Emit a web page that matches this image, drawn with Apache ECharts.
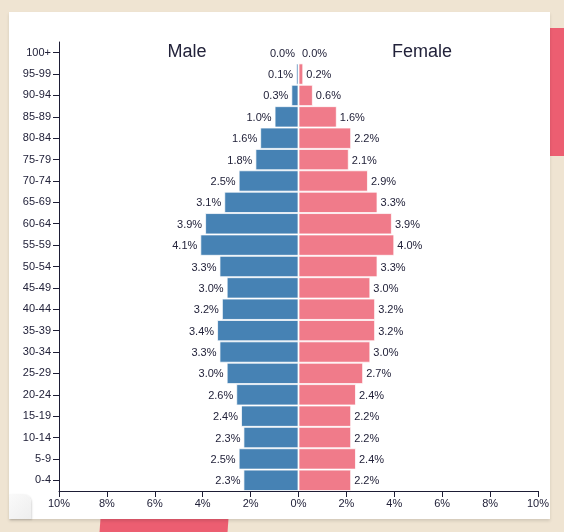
<!DOCTYPE html>
<html>
<head>
<meta charset="utf-8">
<script src="https://cdn.jsdelivr.net/npm/echarts@6/dist/echarts.min.js"></script>
<style>
  html, body { margin: 0; padding: 0; width: 564px; height: 532px; overflow: hidden; background: #efe4d2; }
  #patchR { position: absolute; left: 549px; top: 28px; width: 15px; height: 128px; background: #ec5e71; }
  #patchB { position: absolute; left: 100px; top: 519px; width: 128px; height: 13px; background: #ec5e71; transform: skewX(-4deg); }
  #card { position: absolute; left: 9px; top: 12px; width: 541px; height: 507px; background: #fff; box-shadow: 0 2px 3px rgba(0,0,0,0.12); }
  #curl { position: absolute; left: 9px; top: 494px; width: 22px; height: 25px; background: linear-gradient(135deg, #fafafa 0%, #eeeeee 100%); border-top-right-radius: 8px; box-shadow: 1px 1px 2px rgba(0,0,0,0.15); }
  #chart { position: absolute; left: 0; top: 0; width: 564px; height: 532px; }
</style>
</head>
<body>
<div id="patchR"></div>
<div id="patchB"></div>
<div id="card"></div>
<div id="curl"></div>
<div id="chart"></div>
<script>
// Age groups, top to bottom
const ageGroups = ['100+','95-99','90-94','85-89','80-84','75-79','70-74','65-69','60-64','55-59','50-54','45-49','40-44','35-39','30-34','25-29','20-24','15-19','10-14','5-9','0-4'];
// Percent of population
const maleValues   = [0.0, 0.1, 0.3, 1.0, 1.6, 1.8, 2.5, 3.1, 3.9, 4.1, 3.3, 3.0, 3.2, 3.4, 3.3, 3.0, 2.6, 2.4, 2.3, 2.5, 2.3];
const femaleValues = [0.0, 0.2, 0.6, 1.6, 2.2, 2.1, 2.9, 3.3, 3.9, 4.0, 3.3, 3.0, 3.2, 3.2, 3.0, 2.7, 2.4, 2.2, 2.2, 2.4, 2.2];
const xTicks = [-10, -8, -6, -4, -2, 0, 2, 4, 6, 8, 10];
const seriesNames = ['Male', 'Female'];

const axisColor = '#1d1d35';
const textColor = '#22223a';
const font = 'Liberation Sans, Arial, Helvetica, sans-serif';

const chart = echarts.init(document.getElementById('chart'), null, { renderer: 'canvas' });
const fmt = v => Math.abs(v).toFixed(1) + '%';

chart.setOption({
  animation: false,
  textStyle: { fontFamily: font },
  title: [
    { text: seriesNames[0], left: 182, top: 38, textAlign: 'center',
      textStyle: { fontSize: 18, fontWeight: 'normal', color: textColor, fontFamily: font } },
    { text: seriesNames[1], left: 417, top: 38, textAlign: 'center',
      textStyle: { fontSize: 18, fontWeight: 'normal', color: textColor, fontFamily: font } }
  ],
  grid: { left: 59, right: 26, top: 42, bottom: 41, containLabel: false },
  xAxis: {
    type: 'value',
    min: xTicks[0], max: xTicks[xTicks.length - 1], interval: 2,
    axisLine: { show: true, lineStyle: { color: axisColor, width: 1 } },
    axisTick: { show: true, length: 6, lineStyle: { color: axisColor } },
    splitLine: { show: false },
    axisLabel: { formatter: v => Math.abs(v) + '%', color: textColor, fontSize: 11, margin: 7, fontFamily: font }
  },
  yAxis: {
    type: 'category',
    data: ageGroups,
    inverse: true,
    axisLine: { show: true, onZero: false, lineStyle: { color: axisColor, width: 1 } },
    axisTick: { show: true, alignWithLabel: true, length: 6, lineStyle: { color: axisColor } },
    axisLabel: { color: textColor, fontSize: 11, margin: 8, fontFamily: font }
  },
  series: [
    {
      name: seriesNames[0], type: 'bar',
      data: maleValues.map(v => -v),
      barCategoryGap: '0%', barGap: '-100%',
      itemStyle: { color: '#4682b4', borderColor: 'rgba(255,255,255,0.75)', borderWidth: 1 },
      label: { show: true, position: 'left', distance: 3, offset: [0, 1], formatter: p => fmt(p.value),
               color: textColor, fontSize: 11, fontFamily: font }
    },
    {
      name: seriesNames[1], type: 'bar',
      data: femaleValues,
      barCategoryGap: '0%', barGap: '-100%',
      itemStyle: { color: '#f07b8a', borderColor: 'rgba(255,255,255,0.75)', borderWidth: 1 },
      label: { show: true, position: 'right', distance: 3, offset: [0, 1], formatter: p => fmt(p.value),
               color: textColor, fontSize: 11, fontFamily: font }
    }
  ]
});
</script>
</body>
</html>
